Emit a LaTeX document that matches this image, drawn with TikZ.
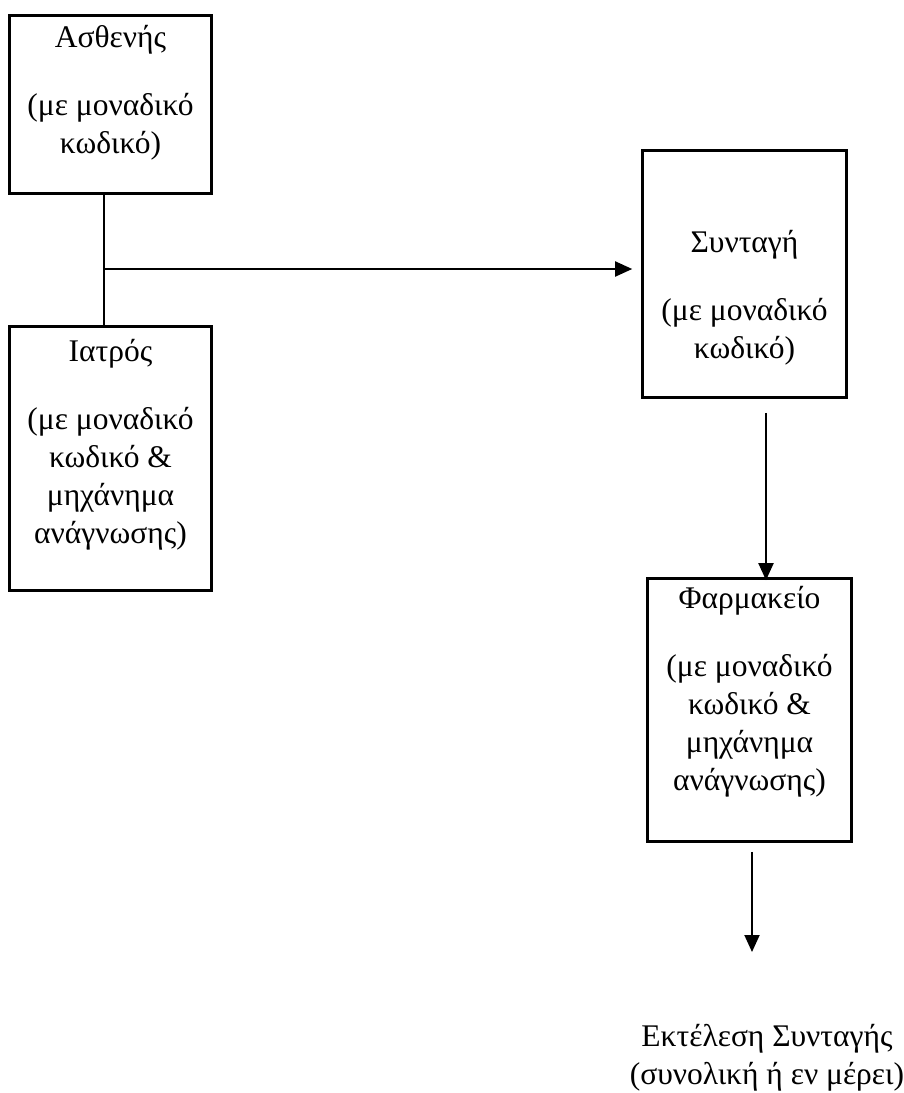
\documentclass[tikz,border=0pt]{standalone}
\usepackage{fontspec}
\setmainfont{Liberation Serif}
\usetikzlibrary{arrows.meta}
\begin{document}
\begin{tikzpicture}[x=1pt,y=-1pt,
  box/.style={draw, line width=2.6pt, inner sep=0pt},
  txt/.style={align=center, font=\fontsize{31.5}{38}\selectfont, anchor=base, inner sep=0pt},
  conn/.style={line width=1.9pt},
  arr/.style={conn, -{Triangle[length=17pt,width=15pt]}}]
\useasboundingbox (0,0) rectangle (904,1093);
% boxes
\node[box, minimum width=202pt, minimum height=178pt] (A) at (110.5,104.5) {};
\node[box, minimum width=202pt, minimum height=264pt] (I) at (110.5,458.5) {};
\node[box, minimum width=204pt, minimum height=247pt] (S) at (744.5,274) {};
\node[box, minimum width=204pt, minimum height=263pt] (F) at (749.5,710) {};
% texts (anchored at the baseline of their last line)
\node[txt] (At) at (110.5,153) {Ασθενής\\[30pt](με μοναδικό\\κωδικό)};
\node[txt] (It) at (110.5,543) {Ιατρός\\[30pt](με μοναδικό\\κωδικό \&\\μηχάνημα\\ανάγνωσης)};
\node[txt] (St) at (744.5,358) {Συνταγή\\[30pt](με μοναδικό\\κωδικό)};
\node[txt] (Ft) at (749.5,790) {Φαρμακείο\\[30pt](με μοναδικό\\κωδικό \&\\μηχάνημα\\ανάγνωσης)};
\node[txt] (E) at (767,1084) {Εκτέλεση Συνταγής\\(συνολική ή εν μέρει)};
% connectors
\coordinate (j) at (104,269);
\coordinate (sx) at (766,0);
\coordinate (fx) at (752,0);
\coordinate (et) at (752,952);
\draw[conn] (A.south -| j) -- (I.north -| j);
\draw[arr] (j) -- ([xshift=-9pt]S.west |- j);
\draw[arr] ([yshift=-14pt]S.south -| sx) -- ([yshift=-3pt]F.north -| sx);
\draw[arr] ([yshift=-9pt]F.south -| fx) -- (et);
\end{tikzpicture}
\end{document}
